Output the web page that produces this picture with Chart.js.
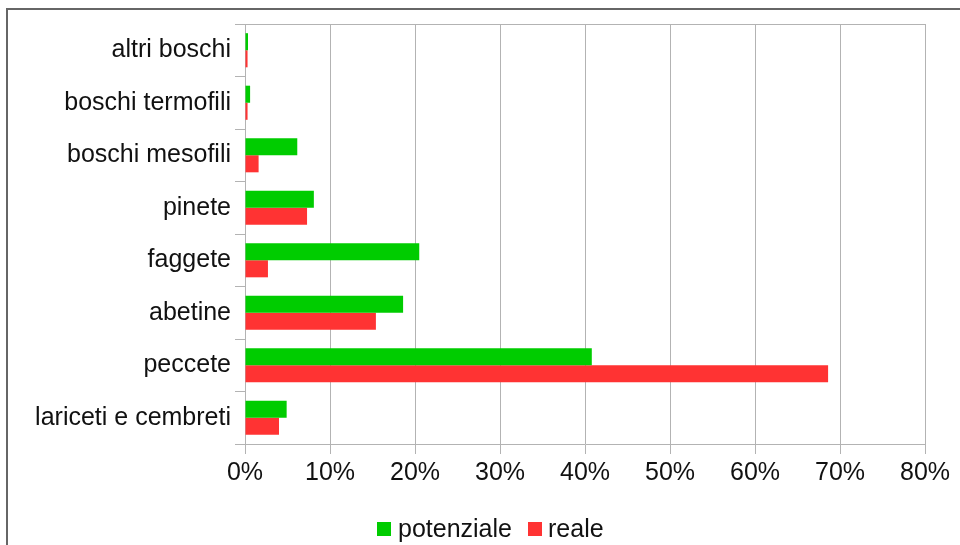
<!DOCTYPE html>
<html>
<head>
<meta charset="utf-8">
<script src="https://cdn.jsdelivr.net/npm/chart.js@4/dist/chart.umd.min.js"></script>
<style>
  html, body { margin:0; padding:0; background:#fff; overflow:hidden; }
  #wrap { position:relative; width:960px; height:545px; }
  #frame { position:absolute; left:6px; top:8px; width:2000px; height:2000px;
           border-left:2px solid #666; border-top:2px solid #666; }
  canvas { position:absolute; left:0; top:0; }
  .lg { position:absolute; font-family:'Liberation Sans', Arial, sans-serif; font-size:25px; color:#111; line-height:30px; top:513px; white-space:nowrap; }
  .bx { position:absolute; top:522px; width:14px; height:14px; }
</style>
</head>
<body>
<div id="wrap">
  <div id="frame"></div>
  <canvas id="c" width="960" height="545"></canvas>
  <div id="legend"></div>
</div>
<script>
const categories = ["altri boschi", "boschi termofili", "boschi mesofili", "pinete", "faggete", "abetine", "peccete", "lariceti e cembreti"];
const potenziale = [0.35, 0.6, 6.15, 8.1, 20.5, 18.6, 40.8, 4.9];
const reale = [0.3, 0.3, 1.6, 7.3, 2.7, 15.4, 68.6, 4.0];
const xTicks = [0, 10, 20, 30, 40, 50, 60, 70, 80];
const seriesNames = ["potenziale", "reale"];
const seriesColors = ["#00cc00", "#ff3333"];

const FONT = "'Liberation Sans', Arial, sans-serif";
const GRID = "#b3b3b3";

const topBorder = {
  id: 'topBorder',
  afterDraw(chart) {
    const a = chart.chartArea, ctx = chart.ctx;
    ctx.save();
    ctx.strokeStyle = GRID;
    ctx.lineWidth = 1;
    ctx.beginPath();
    ctx.moveTo(a.left, Math.round(a.top) + 0.5);
    ctx.lineTo(a.right, Math.round(a.top) + 0.5);
    ctx.stroke();
    ctx.restore();
  }
};

const chart = new Chart(document.getElementById('c'), {
  type: 'bar',
  data: {
    labels: categories,
    datasets: [
      { label: seriesNames[0], data: potenziale, backgroundColor: seriesColors[0] },
      { label: seriesNames[1], data: reale, backgroundColor: seriesColors[1] }
    ]
  },
  options: {
    indexAxis: 'y',
    responsive: false,
    animation: false,
    layout: { padding: { top: 24, right: 35, left: 0, bottom: 45 } },
    datasets: { bar: { categoryPercentage: 0.65, barPercentage: 1.0 } },
    scales: {
      x: {
        min: 0, max: 80,
        afterBuildTicks(scale) { scale.ticks = xTicks.map(v => ({ value: v })); },
        afterFit(scale) { scale.height = 56; },
        ticks: {
          callback: v => v + '%',
          font: { family: FONT, size: 25 },
          color: '#111',
          padding: 4
        },
        grid: { color: GRID, tickLength: 10, lineWidth: 1 },
        border: { color: GRID }
      },
      y: {
        afterFit(scale) { scale.width = 245; },
        ticks: {
          font: { family: FONT, size: 25 },
          color: '#111',
          padding: 4
        },
        grid: { drawOnChartArea: false, color: GRID, tickLength: 10, offset: true },
        border: { color: GRID }
      }
    },
    plugins: {
      legend: { display: false },
      tooltip: { enabled: false }
    }
  },
  plugins: [topBorder]
});

// HTML legend
const lg = document.getElementById('legend');
const boxX = [377, 528];
const textX = [398, 548];
seriesNames.forEach((n, i) => {
  const b = document.createElement('div');
  b.className = 'bx';
  b.style.left = boxX[i] + 'px';
  b.style.background = seriesColors[i];
  lg.appendChild(b);
  const t = document.createElement('div');
  t.className = 'lg';
  t.style.left = textX[i] + 'px';
  t.textContent = n;
  lg.appendChild(t);
});
</script>
</body>
</html>
